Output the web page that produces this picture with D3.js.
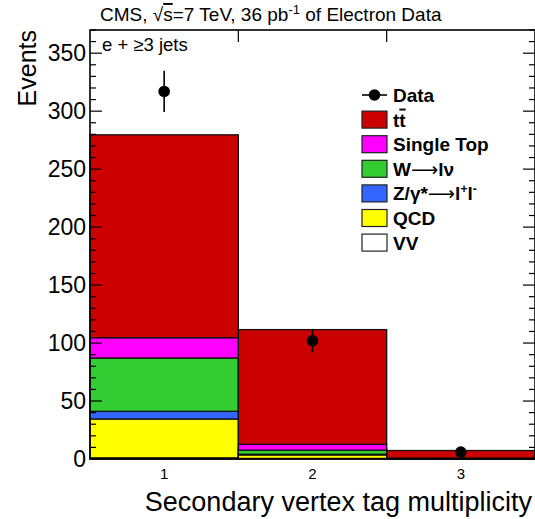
<!DOCTYPE html>
<html>
<head>
<meta charset="utf-8">
<script src="https://cdn.jsdelivr.net/npm/d3@7"></script>
<style>
  body { margin: 0; background: #fff; }
  text { font-family: "Liberation Sans", Arial, sans-serif; fill: #000; }
  .arrow { font-family: "DejaVu Sans", sans-serif; font-weight: normal; }
</style>
</head>
<body>
<div class="chart"></div>
<script>
// Chart data
const bins = ["1", "2", "3"];
const vv = [1.0, 0.5, 0.05];
const qcd = [33.5, 3.0, 0.1];
const zjets = [6.6, 0.6, 0.05];
const wjets = [46, 3.5, 0.2];
const singleTop = [17.5, 5.0, 0.4];
const ttbar = [175, 99, 6.5];
const dataCounts = [317, 102, 6];
const yTicks = [0, 50, 100, 150, 200, 250, 300, 350];

// Set H/W/M
const svgWidth = 535;
const svgHeight = 519;
const margin = { top: 30, right: 0, bottom: 60, left: 90 };
const width = svgWidth - margin.left - margin.right;
const height = svgHeight - margin.top - margin.bottom;

const svg = d3.select(".chart")
  .append("svg")
  .attr("width", svgWidth)
  .attr("height", svgHeight);

const chartGroup = svg.append("g")
  .attr("transform", `translate(${margin.left}, ${margin.top})`);

// scales
const xScale = d3.scaleLinear().domain([0.5, 3.5]).range([0, width]);
const yScale = d3.scaleLinear().domain([0, 370]).range([height, 0]);

// stack components, bottom up
const components = [
  { name: "VV", values: vv, color: "#ffffff" },
  { name: "QCD", values: qcd, color: "#ffff00" },
  { name: "Z", values: zjets, color: "#3366ff" },
  { name: "W", values: wjets, color: "#33cc33" },
  { name: "Single Top", values: singleTop, color: "#ff00ff" },
  { name: "tt", values: ttbar, color: "#cc0000" }
];

const rows = bins.map((b, i) => {
  const r = { bin: +b };
  components.forEach(c => { r[c.name] = c.values[i]; });
  return r;
});
const stack = d3.stack().keys(components.map(c => c.name))(rows);

stack.forEach((layer, k) => {
  chartGroup.append("g")
    .selectAll("rect")
    .data(layer)
    .enter()
    .append("rect")
    .attr("x", d => xScale(d.data.bin - 0.5))
    .attr("width", d => xScale(d.data.bin + 0.5) - xScale(d.data.bin - 0.5))
    .attr("y", d => yScale(d[1]))
    .attr("height", d => yScale(d[0]) - yScale(d[1]))
    .attr("fill", components[k].color)
    .attr("stroke", "#111")
    .attr("stroke-width", 1.3);
});

// data points with sqrt(N) errors
const pts = chartGroup.append("g");
dataCounts.forEach((n, i) => {
  const cx = xScale(+bins[i]);
  const err = Math.sqrt(n);
  pts.append("line")
    .attr("x1", cx).attr("x2", cx)
    .attr("y1", yScale(n + err)).attr("y2", yScale(n - err))
    .attr("stroke", "#000").attr("stroke-width", 1.6);
  pts.append("circle")
    .attr("cx", cx).attr("cy", yScale(n))
    .attr("r", 5.8).attr("fill", "#000");
});

// axes drawn on top (ROOT style)
const minor = d3.range(0, 371, 10);
const ax = chartGroup.append("g").attr("stroke", "#000");
ax.append("rect")
  .attr("x", 0).attr("y", 0).attr("width", width).attr("height", height)
  .attr("fill", "none").attr("stroke-width", 1.6);
minor.forEach(v => {
  const len = v % 50 === 0 ? 12 : 6;
  ax.append("line").attr("x1", 0).attr("x2", len)
    .attr("y1", yScale(v)).attr("y2", yScale(v)).attr("stroke-width", 1.2);
  ax.append("line").attr("x1", width).attr("x2", width - len)
    .attr("y1", yScale(v)).attr("y2", yScale(v)).attr("stroke-width", 1.2);
});
[1.5, 2.5].forEach(e => {
  ax.append("line").attr("x1", xScale(e)).attr("x2", xScale(e))
    .attr("y1", 0).attr("y2", 12).attr("stroke-width", 1.2);
  ax.append("line").attr("x1", xScale(e)).attr("x2", xScale(e))
    .attr("y1", height).attr("y2", height - 12).attr("stroke-width", 1.2);
});

// tick labels
chartGroup.append("g").selectAll("text")
  .data(yTicks).enter().append("text")
  .attr("x", -4).attr("y", d => yScale(d) + 8)
  .attr("text-anchor", "end")
  .style("font-size", "23px")
  .text(d => d);

chartGroup.append("g").selectAll("text")
  .data(bins).enter().append("text")
  .attr("x", d => xScale(+d)).attr("y", height + 20)
  .attr("text-anchor", "middle")
  .style("font-size", "15px")
  .text(d => d);

// axis titles
svg.append("text")
  .attr("transform", "rotate(-90)")
  .attr("x", -30).attr("y", 36)
  .attr("text-anchor", "end")
  .style("font-size", "25px")
  .text("Events");

svg.append("text")
  .attr("x", 532).attr("y", 511)
  .attr("text-anchor", "end")
  .style("font-size", "27px")
  .text("Secondary vertex tag multiplicity");

// title
const title = svg.append("text").attr("x", 100).attr("y", 21).style("font-size", "19px");
title.append("tspan").text("CMS, √");
title.append("tspan").style("text-decoration", "overline").text("s");
title.append("tspan").text("=7 TeV, 36 pb");
title.append("tspan").attr("dy", -7).style("font-size", "13px").text("-1");
title.append("tspan").attr("dy", 7).text(" of Electron Data");

svg.append("text").attr("x", 102).attr("y", 51).style("font-size", "18.5px")
  .text("e + ≥3 jets");

// legend
const legendX = 362;
const legendY0 = 95;
const legendStep = 24.6;
const legend = svg.append("g");

legend.append("line")
  .attr("x1", legendX).attr("x2", legendX + 25)
  .attr("y1", legendY0).attr("y2", legendY0)
  .attr("stroke", "#000").attr("stroke-width", 1.6);
legend.append("circle").attr("cx", legendX + 12.5).attr("cy", legendY0).attr("r", 5.8);

const legendEntries = components.slice().reverse();
legendEntries.forEach((c, i) => {
  const y = legendY0 + (i + 1) * legendStep;
  legend.append("rect")
    .attr("x", legendX).attr("y", y - 8.5)
    .attr("width", 25).attr("height", 17)
    .attr("fill", c.color).attr("stroke", "#222").attr("stroke-width", 1.2);
});

const labelFont = "19px";
function legendText(i) {
  return legend.append("text")
    .attr("x", legendX + 31).attr("y", legendY0 + i * legendStep + 7)
    .style("font-size", labelFont).style("font-weight", "bold");
}
legendText(0).text("Data");
const ttl = legendText(1);
ttl.append("tspan").text("t");
ttl.append("tspan").style("text-decoration", "overline").text("t");
legendText(2).text("Single Top");
const wl = legendText(3);
wl.append("tspan").text("W");
wl.append("tspan").attr("class", "arrow").text("⟶");
wl.append("tspan").text("lν");
const zl = legendText(4);
zl.append("tspan").text("Z/γ*");
zl.append("tspan").attr("class", "arrow").text("⟶");
zl.append("tspan").text("l");
zl.append("tspan").attr("dy", -7).style("font-size", "12px").text("+");
zl.append("tspan").attr("dy", 7).text("l");
zl.append("tspan").attr("dy", -7).style("font-size", "12px").text("-");
legendText(5).text("QCD");
legendText(6).text("VV");
</script>
</body>
</html>
